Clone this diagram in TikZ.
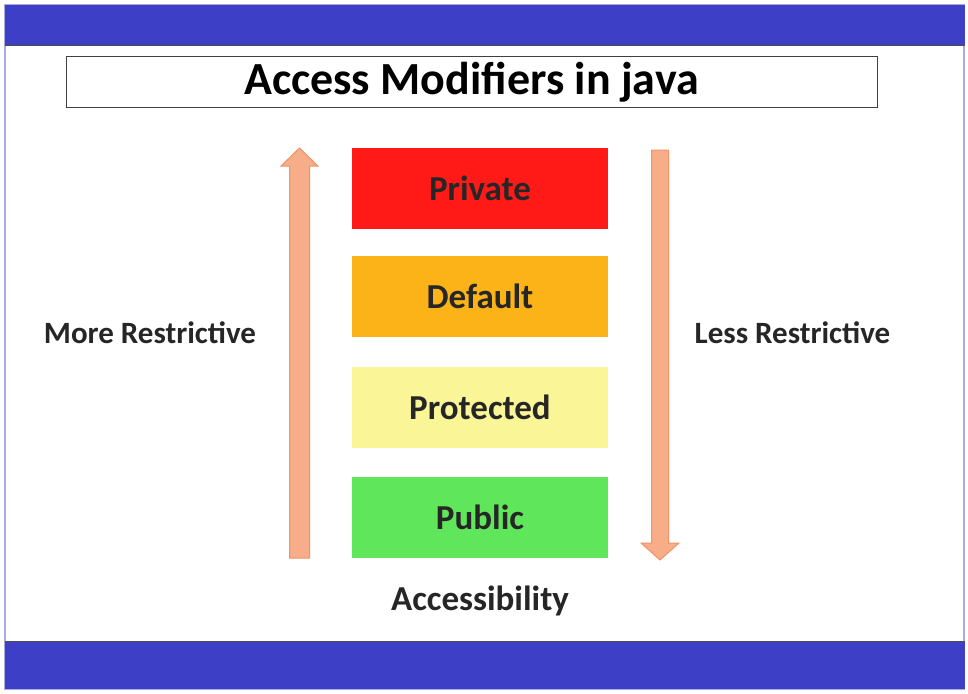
\documentclass[tikz,border=0pt]{standalone}
\usepackage{fontspec}
\setmainfont{Carlito}
\definecolor{barblue}{HTML}{3D3FC6}
\definecolor{frame}{HTML}{A9AADD}
\definecolor{cPriv}{HTML}{FF1A17}
\definecolor{cDef}{HTML}{FCB317}
\definecolor{cProt}{HTML}{FAF596}
\definecolor{cPub}{HTML}{5FE65A}
\definecolor{arrfill}{HTML}{F7AD88}
\definecolor{arrline}{HTML}{EE9468}
\begin{document}
\begin{tikzpicture}[x=1pt,y=-1pt,
  level/.style={minimum width=256pt,minimum height=81pt,inner sep=0pt,font=\fontsize{35}{37}\selectfont\bfseries,text=black!85},
  side/.style={font=\fontsize{31}{33}\selectfont\bfseries,text=black!85},
  bigarrow/.style={fill=arrfill,draw=arrline,line width=1pt,line join=miter}]
\useasboundingbox (0,0) rectangle (968,693);
\fill[white] (0,0) rectangle (968,693);
\draw[frame,line width=1.2pt] (5,5) rectangle (964,689);
\fill[barblue] (5,5) rectangle (965,46);
\draw[black!70,line width=1pt] (5,46) -- (965,46);
\fill[barblue] (5,641) rectangle (965,689);
\draw[black!70,line width=1pt] (5,641) -- (965,641);
\node[draw=black!75,line width=1pt,minimum width=811pt,minimum height=50pt,inner sep=0pt,
  font=\fontsize{46}{48}\selectfont\bfseries] (title) at (471.5,82) {Access Modifiers in java};
\node[level,fill=cPriv] (priv) at (480,188) {Private};
\node[level,fill=cDef] (def) at (480,296) {Default};
\node[level,fill=cProt] (prot) at (480,407) {Protected};
\node[level,fill=cPub] (pub) at (480,517.5) {Public};
\node[side] (more) at (150,333) {More Restrictive};
\node[side] (less) at (792.5,333) {Less Restrictive};
\node[font=\fontsize{35}{37}\selectfont\bfseries,text=black!85] (acc) at (480,601) {Accessibility};
% up arrow
\draw[bigarrow] (289.5,558) -- (289.5,166) -- (281,166) -- (299.5,148) -- (318,166) -- (309.5,166) -- (309.5,558) -- cycle;
% down arrow
\draw[bigarrow] (651.5,150) -- (668.5,150) -- (668.5,543) -- (679,543) -- (660,560) -- (641,543) -- (651.5,543) -- cycle;
\end{tikzpicture}
\end{document}
